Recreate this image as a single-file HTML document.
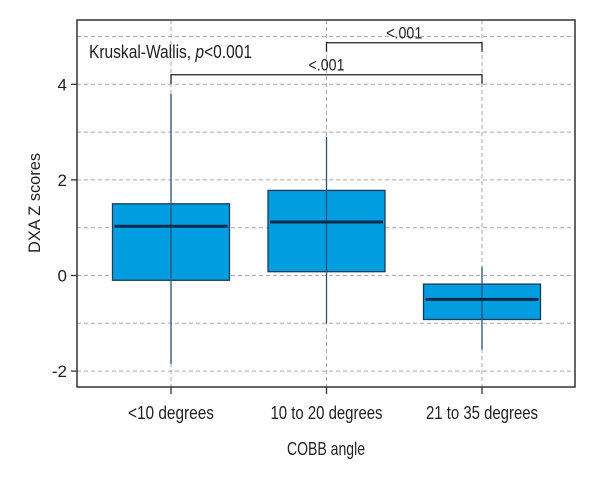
<!DOCTYPE html>
<html><head><meta charset="utf-8"><style>
body{margin:0;background:#fff}
svg text{font-family:"Liberation Sans Narrow","Liberation Sans",sans-serif;fill:#222}
</style></head><body>
<svg id="chart" width="600" height="480">
<g id="grid"></g>
<g id="boxes"></g>
<g id="axes"></g>
</svg>
<script>
const categories=["<10 degrees","10 to 20 degrees","21 to 35 degrees"];
const whiskerLow=[-1.85,-1.0,-1.55];
const q1=[-0.1,0.08,-0.92];
const medians=[1.03,1.12,-0.5];
const q3=[1.5,1.78,-0.18];
const whiskerHigh=[3.8,2.9,0.18];
const yTicks=[-2,0,2,4];
const yGrid=[-2,-1,0,1,2,3,4,5];
const brackets=[{from:0,to:2,y:4.2,label:"<.001"},{from:1,to:2,y:4.87,label:"<.001"}];

const NS="http://www.w3.org/2000/svg";
const L=77,R=575,T=20,B=387;
const y=v=>275.5-v*47.8;
const xc=i=>171+i*155.5;
const bw=117;
function mk(tag,attrs,parent,text){const e=document.createElementNS(NS,tag);for(const k in attrs)e.setAttribute(k,attrs[k]);if(text!==undefined)e.textContent=text;parent.appendChild(e);return e;}
const grid=document.getElementById('grid'),boxes=document.getElementById('boxes'),axes=document.getElementById('axes');
yGrid.forEach(v=>{const l=mk('line',{x1:L,x2:R,y1:y(v),y2:y(v),stroke:'#aaa','stroke-dasharray':'4,3','stroke-width':1},grid);

});
categories.forEach((c,i)=>{const l=mk('line',{x1:xc(i),x2:xc(i),y1:T,y2:B,stroke:'#aaa','stroke-dasharray':'4,3','stroke-width':1},grid);

});
categories.forEach((c,i)=>{
const g=mk('g',{},boxes);


mk('rect',{x:xc(i)-bw/2,y:y(q3[i]),width:bw,height:y(q1[i])-y(q3[i]),fill:'#009ee0',stroke:'#1a3a5c','stroke-width':1.3},g);
mk('line',{x1:xc(i),x2:xc(i),y1:y(whiskerHigh[i]),y2:y(whiskerLow[i]),stroke:'#2a5078','stroke-width':1.3},g);
mk('line',{x1:xc(i)-bw/2+2,x2:xc(i)+bw/2-2,y1:y(medians[i]),y2:y(medians[i]),stroke:'#0d2a4a','stroke-width':3},g);
});
brackets.forEach(b=>{
const g=mk('g',{},axes);


const yy=y(b.y),x1=xc(b.from),x2=xc(b.to);
mk('path',{d:`M${x1},${yy+9}V${yy}H${x2}V${yy+9}`,fill:'none',stroke:'#222','stroke-width':1.3},g);
mk('text',{x:(x1+x2)/2,y:yy-4,'text-anchor':'middle','font-size':17,textLength:36,lengthAdjust:'spacingAndGlyphs'},g,b.label);
});
const frame=mk('rect',{x:L,y:T,width:R-L,height:B-T,fill:'none',stroke:'#333','stroke-width':1.5},axes);


yTicks.forEach(v=>{mk('line',{x1:L-6,x2:L,y1:y(v),y2:y(v),stroke:'#333','stroke-width':1.3},axes);
const t=mk('text',{x:L-10,y:y(v)+6,'text-anchor':'end','font-size':17},axes,v);

});
const catW=[86,112,112];
categories.forEach((c,i)=>{mk('line',{x1:xc(i),x2:xc(i),y1:B,y2:B+7,stroke:'#333','stroke-width':1.3},axes);
const t=mk('text',{x:xc(i),y:419,'text-anchor':'middle','font-size':18,textLength:catW[i],lengthAdjust:'spacingAndGlyphs'},axes,c);

});
</script>
<svg width="600" height="480" style="position:absolute;left:0;top:0">
<text x="89" y="58" font-size="18" textLength="163" lengthAdjust="spacingAndGlyphs">Kruskal-Wallis, <tspan font-style="italic">p</tspan>&lt;0.001</text>
<text x="326" y="455" font-size="18" text-anchor="middle" textLength="78" lengthAdjust="spacingAndGlyphs">COBB angle</text>
<text transform="translate(40,203) rotate(-90)" font-size="17" text-anchor="middle" textLength="100" lengthAdjust="spacingAndGlyphs">DXA Z scores</text>
</svg>
</body></html>
